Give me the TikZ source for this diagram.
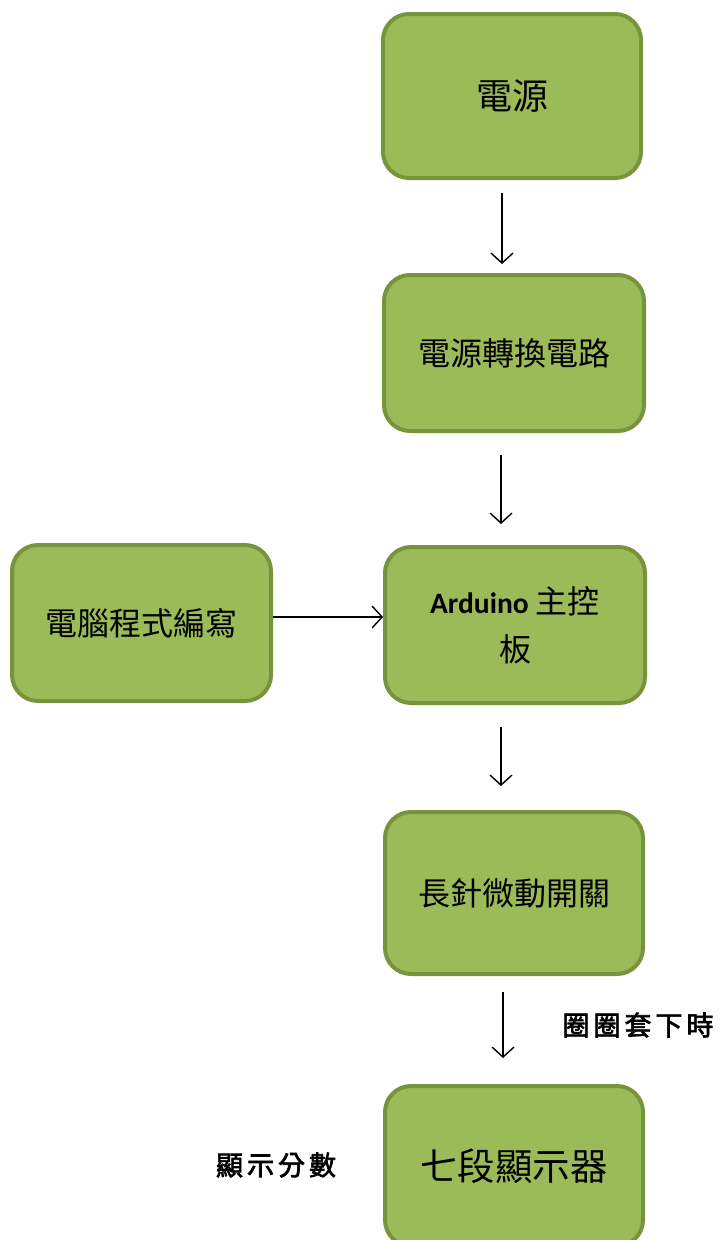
\documentclass[tikz,border=0pt]{standalone}
\usepackage{fontspec}
\newfontfamily\cjk{Noto Sans CJK TC}
\newfontfamily\cjkb{Noto Sans CJK TC}[FakeBold=2.5]
\newfontfamily\lat{Carlito}
\usetikzlibrary{arrows.meta}
\definecolor{boxfill}{HTML}{9BBB59}
\definecolor{boxline}{HTML}{77933C}
\tikzset{
  block/.style={draw=boxline, fill=boxfill, line width=4pt, rounded corners=26pt,
    minimum width=#1, align=center, inner sep=0pt, font=\cjk\fontsize{32}{48}\selectfont},
  block/.default=258pt,
  flow/.style={line width=1.4pt, -{Straight Barb[length=10pt,width=22pt,line width=1.4pt]}},
  note/.style={font=\cjkb\fontsize{27}{30}\selectfont, inner sep=0pt}
}
\begin{document}
\begin{tikzpicture}[x=1pt,y=-1pt]
\useasboundingbox (0,0) rectangle (720,1240);
\node[block, minimum height=164pt, font=\cjk\fontsize{36}{40}\selectfont] (power) at (512,96) {電源};
\node[block=260pt, minimum height=156pt] (conv) at (514,353) {電源轉換電路};
\node[block=260pt, minimum height=156pt] (ard) at (515,625) {{\lat\bfseries\fontsize{29.5}{48}\selectfont Arduino} 主控\\板};
\node[block=259pt, minimum height=156pt] (pc) at (141.5,623) {電腦程式編寫};
\node[block, minimum height=162pt] (sw) at (514,893) {長針微動開關};
\node[block, minimum height=160pt, font=\cjk\fontsize{37.5}{40}\selectfont] (seg) at (514,1166) {七段顯示器};
\coordinate (a1s) at (502,193); \coordinate (a1e) at (502,264);
\coordinate (a2s) at (501,455); \coordinate (a2e) at (501,524);
\coordinate (a3s) at (501,727); \coordinate (a3e) at (501,786);
\coordinate (a4s) at (503,992); \coordinate (a4e) at (503,1058);
\draw[flow] (a1s) -- (a1e);
\draw[flow] (a2s) -- (a2e);
\draw[flow] (a3s) -- (a3e);
\draw[flow] (a4s) -- (a4e);
\draw[flow] (pc.east |- 0,617) -- (ard.west |- 0,617);
\node[note] (t1) at (638,1025) {圈\hspace{4pt}圈\hspace{4pt}套\hspace{4pt}下\hspace{4pt}時};
\node[note] (t2) at (276,1165) {顯\hspace{4pt}示\hspace{4pt}分\hspace{4pt}數};
\end{tikzpicture}
\end{document}
